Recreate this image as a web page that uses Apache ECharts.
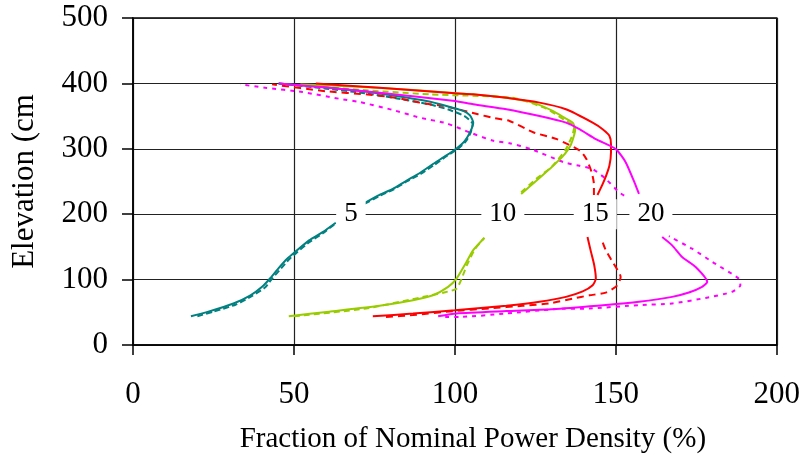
<!DOCTYPE html>
<html>
<head>
<meta charset="utf-8">
<script src="https://cdn.jsdelivr.net/npm/echarts@6/dist/echarts.min.js"></script>
<style>html,body{margin:0;padding:0;background:#fff;}#c{width:803px;height:461px;}</style>
</head>
<body>
<div id="c"></div>
<script>
// ---- data (x = % of nominal power density, y = elevation cm) ----
const curveNames = ['5', '10', '15', '20'];
const curveColors = ['#008080', '#99CC00', '#FF0000', '#FF00FF'];

// Solid lines, lower and upper pieces
const s5Low = [[18,44],[23.4,51],[31.2,63.5],[36.5,76],[40.1,89],[42.7,102.5],[45.3,118],[47.9,132],[50.5,143],[54.7,160],[58.9,172.6],[63,187]];
const s5Up = [[71.9,216.8],[76.6,229.4],[80.7,238.6],[84.9,251],[89.1,263],[93.2,276.7],[97.4,290],[100.5,300.5],[103.1,312.2],[104.9,327.4],[105.7,340],[104.7,351],[102.6,357.9],[97.4,365.5],[91.2,373],[81.8,380.7],[71.4,388],[60.9,393.4],[45.3,400]];
const s10Low = [[48.4,44],[60.9,51],[76.6,60],[87,68.5],[93.2,76],[97.9,88.8],[100.5,101.5],[103.6,127],[105.7,145],[109.2,164]];
const s10Up = [[120.6,231],[125.3,251],[129.4,269],[133.5,288.3],[136.1,307],[137.4,330],[136.6,340],[134.5,346],[130.4,357.9],[124.2,370.6],[116,378],[105.7,383],[87,390],[70,395],[52,398.5]];
const s15Low = [[74.5,44],[87,48],[100,53],[116,60],[126.3,66],[134.5,73.6],[139.7,82],[142.8,91.4],[143.8,101.5],[143.3,121.8],[142.3,142],[141.2,165]];
const s15Up = [[144.3,229.4],[145.9,246],[147,259],[148,274],[148.5,294.4],[148.5,307],[148,320],[145.9,330],[142.8,340],[134.5,360.4],[126.3,370.6],[116,378],[105.7,383.3],[100,384.8],[76.6,393.4],[56.8,400]];
const s20Low = [[94.8,44],[100.5,48.2],[116,51.8],[131.4,55],[146.9,61],[157.2,66],[167.5,73.6],[172.7,80.2],[176.8,88.8],[178.4,96.4],[174.8,119.3],[170.6,134.5],[167.5,152.3],[164.4,165]];
const s20Up = [[157.2,231],[156.2,243.7],[153.1,279.2],[150,299.5],[143.8,314.7],[138.7,330],[134.5,340],[126.3,350],[116,360.4],[105.7,368],[100,373],[76.6,385.8],[60.9,393.4],[45.3,400]];

// Dashed lines, lower and upper pieces
const d5Low = [[20,44],[25,51],[32,62],[37,75],[41,88],[43.3,102],[46,117],[48.5,131],[51,142],[55,158],[59,171],[63,186]];
const d5Up = [[72,216],[77,229],[81,238],[85,250],[89.5,262],[93.5,275],[97.5,289],[101,300],[103.5,312],[105,326],[105.5,338],[103,350],[98,360],[92,368],[82,377],[72,385],[60,392],[45,400]];
const d10Low = [[50,44],[72.4,55.8],[91.2,74.6],[96.4,80],[100.5,86],[102.1,101.5],[103.7,121.8],[106.3,147],[109.1,163.5]];
const d10Up = [[120.6,233.5],[125.3,254],[130.4,274],[134.5,299.5],[136.6,322],[137.1,335],[134.5,342.6],[128.4,361.4],[118,378],[92.2,383.2],[71.4,389.8],[55.7,396]];
const d15Low = [[78.6,43],[87,45.7],[99.5,51.8],[110.8,56],[121.1,60],[129.4,63.5],[136.6,71],[141.8,76],[146.9,80],[150.5,91.4],[151.5,104],[149,127],[146.9,144.7],[145.6,161.4]];
const d15Up = [[143.2,229.4],[143.2,246],[142.5,264],[140.9,284],[138.9,297],[131.7,314.7],[124.5,325],[117,342.6],[112.4,346.7],[107.2,352.8],[97.4,364.5],[89.1,370.6],[81.8,378],[72.9,383],[59.9,388],[43.2,398.5]];
const d20Low = [[97,43],[101.6,43],[116,48.2],[131.4,55],[141.8,55.8],[157.2,61],[167.5,63.5],[177.9,72],[186.1,81.2],[188.7,91.4],[188.2,101.5],[180,127],[173.7,147.2],[166.5,166.5]];
const d20Up = [[152.6,228.4],[151,233.5],[146.9,253.8],[142.8,269],[138.7,274],[134,279.2],[123.7,299.5],[117,308.6],[112,312.2],[104.7,324.9],[97.4,339],[89.1,347.7],[80.7,359.4],[70.3,371.6],[64,376.6],[52.6,386.8],[41.1,393.4],[33.3,398.5]];

// curve labels placed on the 200 cm gridline
const labelTexts = ['5', '10', '15', '20'];
const labelX = [67.7, 114.9, 143.6, 160.9];
const labelY = [200, 200, 200, 200];

// axis tick settings
const xMin = 0, xMax = 200, xStep = 50;
const yMin = 0, yMax = 500, yStep = 100;

// ---- chart ----
const solidSets = [[s5Low, s5Up], [s10Low, s10Up], [s15Low, s15Up], [s20Low, s20Up]];
const dashedSets = [[d5Low, d5Up], [d10Low, d10Up], [d15Low, d15Up], [d20Low, d20Up]];
const dashPatterns = [[6, 3], [6, 4], [7, 5], [4, 5]];

const FONT = '"Liberation Serif", "Times New Roman", serif';
const series = [];
dashedSets.forEach((pieces, i) => {
  pieces.forEach(p => series.push({
    type: 'line', data: p, showSymbol: false, symbol: 'none', smooth: 0.2,
    lineStyle: { color: curveColors[i], width: 2, type: dashPatterns[i] },
    z: 2, silent: true
  }));
});
solidSets.forEach((pieces, i) => {
  pieces.forEach(p => series.push({
    type: 'line', data: p, showSymbol: false, symbol: 'none', smooth: 0.2,
    lineStyle: { color: curveColors[i], width: 2, type: 'solid' },
    z: 3, silent: true
  }));
});
series.push({
  type: 'scatter', symbolSize: 0, z: 5, silent: true,
  itemStyle: { opacity: 1 },
  data: labelTexts.map((t, i) => ({ value: [labelX[i], labelY[i]], name: t })),
  label: {
    show: true, position: 'inside', formatter: p => p.name,
    fontFamily: FONT, fontSize: 27, color: '#000', opacity: 1,
    backgroundColor: '#fff', padding: [3, 8, 0, 8]
  }
});

const chart = echarts.init(document.getElementById('c'), null, { renderer: 'canvas' });
chart.setOption({
  animation: false,
  backgroundColor: '#fff',
  grid: { left: 133, top: 18, width: 644, height: 327, show: true, borderColor: '#000', borderWidth: 1.5 },
  xAxis: {
    type: 'value', min: xMin, max: xMax, interval: xStep,
    name: 'Fraction of Nominal Power Density (%)', nameLocation: 'middle', nameGap: 80,
    nameTextStyle: { fontFamily: FONT, fontSize: 29, color: '#000', padding: [0, 0, 0, 36] },
    axisLine: { show: true, lineStyle: { color: '#000', width: 1.5 } },
    axisTick: { show: true, length: 10, lineStyle: { color: '#000', width: 1.5 } },
    axisLabel: { fontFamily: FONT, fontSize: 31, color: '#000', margin: 34 },
    splitLine: { show: true, lineStyle: { color: '#222', width: 1.2 } }
  },
  yAxis: {
    type: 'value', min: yMin, max: yMax, interval: yStep,
    name: 'Elevation (cm', nameLocation: 'middle', nameGap: 93,
    nameTextStyle: { fontFamily: FONT, fontSize: 31, color: '#000' },
    axisLine: { show: true, lineStyle: { color: '#000', width: 1.5 } },
    axisTick: { show: true, length: 11, lineStyle: { color: '#000', width: 1.5 } },
    axisLabel: { fontFamily: FONT, fontSize: 31, color: '#000', margin: 25 },
    splitLine: { show: true, lineStyle: { color: '#222', width: 1.2 } }
  },
  series: series
});
</script>
</body>
</html>
